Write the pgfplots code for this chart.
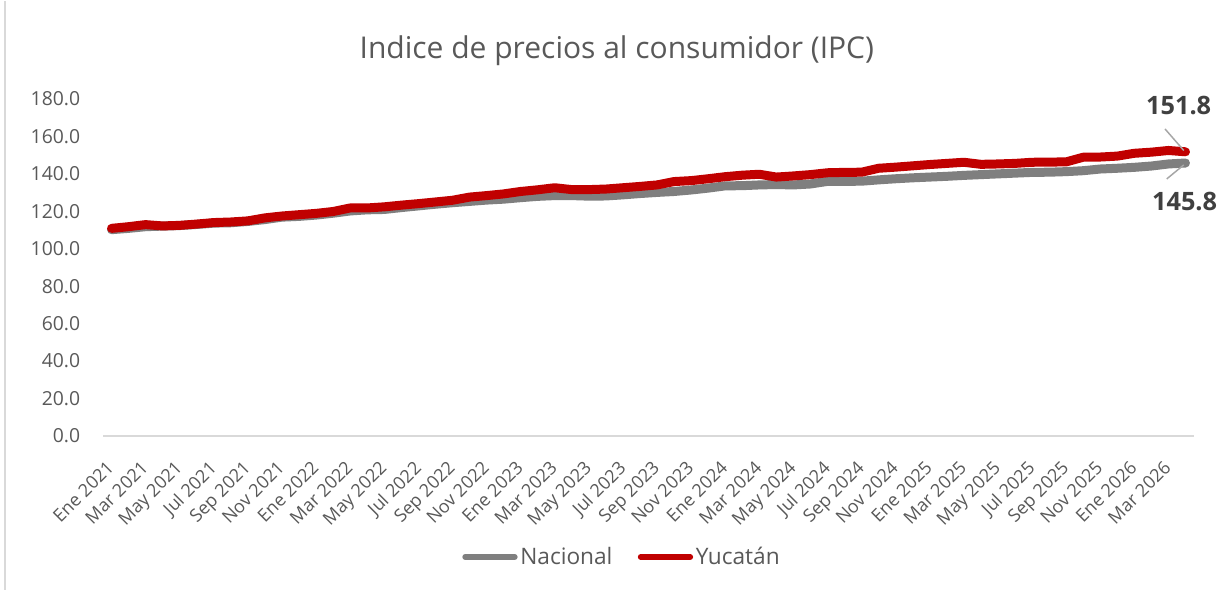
\documentclass[border=0pt]{standalone}
\usepackage{fontspec}
\setmainfont{Open Sans}
\usepackage{pgfplots}
\usepackage{pgfplotstable}
\pgfplotsset{compat=1.18}
\definecolor{nac}{HTML}{7F7F7F}
\definecolor{yuc}{HTML}{C00000}
\definecolor{txt}{HTML}{595959}
\definecolor{lbl}{HTML}{404040}
\definecolor{axl}{HTML}{D9D9D9}
\definecolor{lead}{HTML}{A6A6A6}

\pgfplotstableread{
i nac yuc
0 110.2 110.9
1 110.9 111.8
2 111.8 112.9
3 112.1 112.2
4 112.4 112.5
5 113.0 113.2
6 113.7 114.0
7 113.9 114.3
8 114.6 114.9
9 115.6 116.5
10 116.9 117.5
11 117.3 118.2
12 118.0 118.9
13 119.0 119.9
14 120.2 121.8
15 120.8 121.8
16 121.0 122.4
17 122.0 123.3
18 122.9 124.1
19 123.8 125.0
20 124.6 125.9
21 125.3 127.6
22 126.0 128.4
23 126.5 129.3
24 127.3 130.6
25 128.0 131.5
26 128.4 132.6
27 128.4 131.6
28 128.1 131.6
29 128.2 131.9
30 128.8 132.6
31 129.5 133.3
32 130.1 134.1
33 130.6 135.9
34 131.4 136.4
35 132.4 137.4
36 133.6 138.5
37 133.7 139.3
38 134.1 139.8
39 134.3 138.3
40 134.1 138.9
41 134.6 139.6
42 136.0 140.6
43 136.0 140.8
44 136.1 140.9
45 136.8 143.0
46 137.4 143.6
47 137.9 144.3
48 138.3 145.0
49 138.7 145.6
50 139.2 146.2
51 139.6 145.1
52 140.0 145.3
53 140.4 145.6
54 140.8 146.2
55 140.9 146.3
56 141.2 146.4
57 141.7 148.9
58 142.6 149.0
59 143.0 149.5
60 143.5 151.0
61 144.2 151.6
62 145.3 152.5
63 145.8 151.8
}\datatable

\begin{document}
\begin{tikzpicture}
\fill[white] (0,0) rectangle (922.5pt,441.75pt);
\draw[axl, line width=1.5pt] (4pt,0) -- (4pt,441.75pt);
\begin{axis}[
  at={(77.25pt,115.5pt)}, anchor=south west,
  scale only axis, width=818.25pt, height=252.75pt,
  xmin=-0.5, xmax=63.5, ymin=0, ymax=180,
  axis line style={draw=none},
  major tick length=0pt,
  /pgf/number format/assume math mode=true,
  ytick={0,20,...,180},
  yticklabel={\pgfmathprintnumber[fixed,fixed zerofill,precision=1,assume math mode=true]{\tick}},
  yticklabel style={anchor=east, inner sep=0pt, xshift=-17pt, font=\fontsize{14.5pt}{16pt}\selectfont, text=txt},
  xtick={0,2,...,62},
  xticklabels={Ene 2021,Mar 2021,May 2021,Jul 2021,Sep 2021,Nov 2021,Ene 2022,Mar 2022,May 2022,Jul 2022,Sep 2022,Nov 2022,Ene 2023,Mar 2023,May 2023,Jul 2023,Sep 2023,Nov 2023,Ene 2024,Mar 2024,May 2024,Jul 2024,Sep 2024,Nov 2024,Ene 2025,Mar 2025,May 2025,Jul 2025,Sep 2025,Nov 2025,Ene 2026,Mar 2026},
  xticklabel style={rotate=45, anchor=north east, inner sep=0pt, yshift=-9.4pt, xshift=-15.5pt, font=\fontsize{13.5pt}{15pt}\selectfont, text=txt},
  title={Indice de precios al consumidor (IPC)},
  title style={at={(0.471,1.121)}, anchor=center, font=\fontsize{22.5pt}{26pt}\selectfont, text=txt},
  legend style={at={(0.476,-0.359)}, anchor=center, draw=none, fill=none,
    font=\fontsize{17pt}{20pt}\selectfont, text=txt, inner sep=0pt,
    /tikz/every even column/.append style={column sep=17pt}},
  legend columns=2,
  legend cell align=left,
  legend image code/.code={\draw[#1, line width=4.5pt, line cap=round] (0pt,0pt) -- (37pt,0pt);},
  clip=false,
]
\draw[axl, line width=1.2pt] (rel axis cs:0,0) -- (rel axis cs:1,0);
\addplot[nac, line width=6.75pt, line join=round, line cap=round] table[x=i, y=nac] {\datatable};
\addlegendentry{Nacional}
\addplot[yuc, line width=6.75pt, line join=round, line cap=round] table[x=i, y=yuc] {\datatable};
\addlegendentry{Yucatán}
\draw[lead, line width=1.1pt] (axis cs:61.8,164.0) -- (axis cs:62.9,152.5);
\draw[lead, line width=1.1pt] (axis cs:61.9,137.3) -- (axis cs:62.9,144.8);
\node[font=\fontsize{19pt}{22pt}\selectfont\bfseries, text=lbl] at (axis cs:62.6,176.3) {151.8};
\node[font=\fontsize{19pt}{22pt}\selectfont\bfseries, text=lbl] at (axis cs:62.95,125.0) {145.8};
\end{axis}
\end{tikzpicture}
\end{document}
